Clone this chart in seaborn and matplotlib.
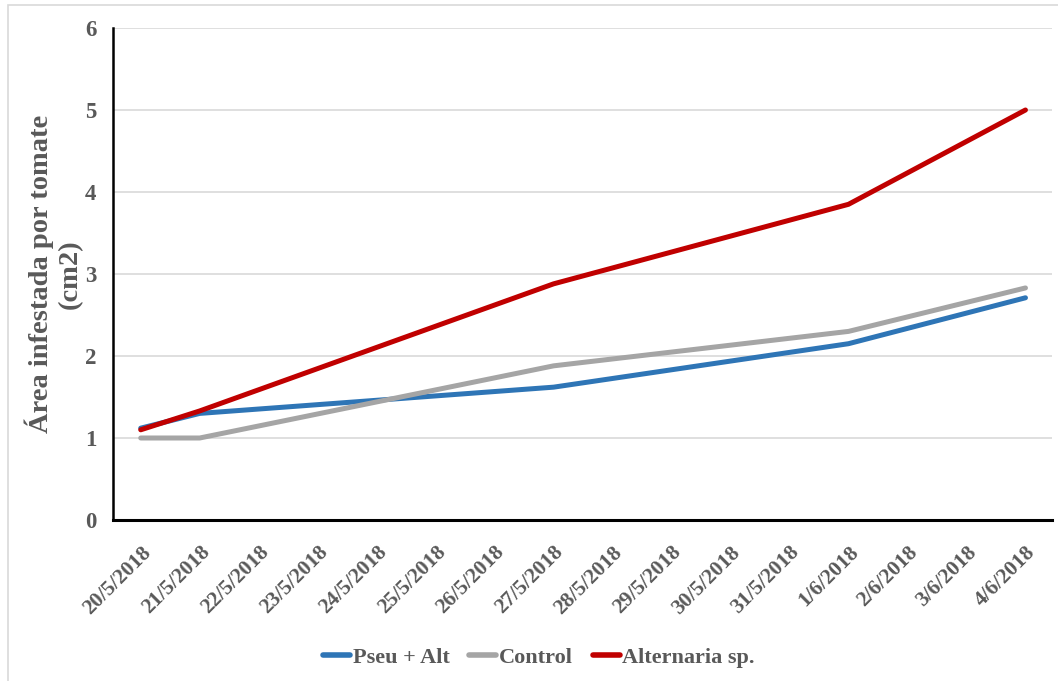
import matplotlib
matplotlib.use("Agg")
import matplotlib.pyplot as plt
import matplotlib.patches as mpatches
import seaborn as sns
import pandas as pd

# Measurement dates and infested area per tomato (cm2)
sample_dates = ["20/5/2018", "21/5/2018", "27/5/2018", "1/6/2018", "4/6/2018"]
pseu_alt = [1.12, 1.30, 1.62, 2.15, 2.71]
control = [1.00, 1.00, 1.88, 2.30, 2.83]
alternaria = [1.10, 1.33, 2.88, 3.85, 5.00]

series_names = ["Pseu + Alt", "Control", "Alternaria sp."]
series_colors = ["#2E75B6", "#A5A5A5", "#C00000"]

axis_labels = ["20/5/2018", "21/5/2018", "22/5/2018", "23/5/2018", "24/5/2018",
               "25/5/2018", "26/5/2018", "27/5/2018", "28/5/2018", "29/5/2018",
               "30/5/2018", "31/5/2018", "1/6/2018", "2/6/2018", "3/6/2018",
               "4/6/2018"]
y_ticks = [0, 1, 2, 3, 4, 5, 6]

sns.set_theme(style="white")
plt.rcParams["font.family"] = ["Liberation Serif", "DejaVu Serif"]
plt.rcParams["font.weight"] = "bold"

text_color = "#595959"

start = pd.to_datetime(axis_labels[0], format="%d/%m/%Y")
def day_index(s):
    return (pd.to_datetime(s, format="%d/%m/%Y") - start).days

rows = []
for name, vals in zip(series_names, [pseu_alt, control, alternaria]):
    for d, v in zip(sample_dates, vals):
        rows.append({"day": day_index(d), "area": v, "serie": name})
df = pd.DataFrame(rows)

fig = plt.figure(figsize=(10.58, 6.81), dpi=100)
ax = fig.add_axes([113 / 1058, 1 - 520 / 681, (1052 - 113) / 1058, (520 - 28) / 681])

sns.lineplot(data=df, x="day", y="area", hue="serie", hue_order=series_names,
             palette=series_colors, linewidth=3.6, ax=ax, legend=False,
             solid_capstyle="round", solid_joinstyle="round")

tick_pos = [day_index(s) for s in axis_labels]
ax.set_xlim(tick_pos[0] - 0.47, tick_pos[-1] + 0.45)
ax.set_ylim(0, 6)
ax.set_yticks(y_ticks)
ax.set_yticklabels([str(t) for t in y_ticks], fontsize=16.5, fontweight="bold",
                   color=text_color)
ax.set_xticks(tick_pos)
ax.set_xticklabels(axis_labels, rotation=45, ha="right", rotation_mode="anchor",
                   fontsize=15.5, fontweight="bold", color=text_color)
ax.tick_params(axis="x", length=0, pad=16)
ax.tick_params(axis="y", direction="inout", length=12, width=1.5, color="black", pad=6)

ax.grid(axis="y", color="#D9D9D9", linewidth=1.2)
ax.set_axisbelow(True)
for side in ["top", "right"]:
    ax.spines[side].set_visible(False)
ax.spines["left"].set_color("black")
ax.spines["left"].set_linewidth(1.8)
ax.spines["bottom"].set_color("black")
ax.spines["bottom"].set_linewidth(2.2)

ax.set_xlabel("")
ax.set_ylabel("")
fig.text(54 / 1058, 1 - 274 / 681, "Área infestada por tomate\n(cm2)",
         rotation=90, ha="center", va="center", multialignment="center",
         fontsize=20.5, fontweight="bold", color=text_color, linespacing=1.2)

handles = [plt.Line2D([], [], color=c, linewidth=4, solid_capstyle="round")
           for c in series_colors]
fig.legend(handles, series_names, loc="center", bbox_to_anchor=(539 / 1058, 1 - 658 / 681),
           ncol=3, frameon=False, handlelength=1.2, handletextpad=0.13,
           columnspacing=0.9, prop={"size": 16, "weight": "bold"},
           labelcolor=text_color)

# Thin outer chart border
fig.patches.append(mpatches.Rectangle((8 / 1058, -0.01), 1.01, 1 - 5 / 681 + 0.01,
                                      transform=fig.transFigure, fill=False,
                                      edgecolor="#D9D9D9", linewidth=1.2))

fig.savefig("out.png", dpi=100)
